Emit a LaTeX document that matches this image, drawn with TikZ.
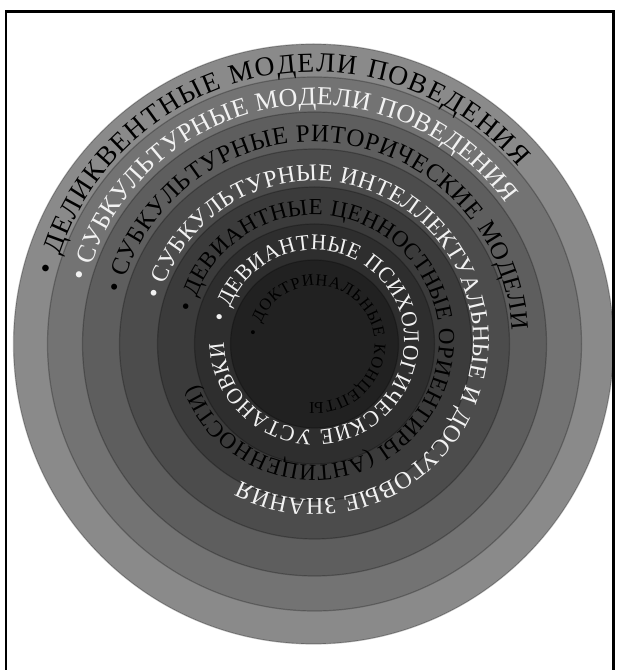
\documentclass[tikz,border=0pt]{standalone}
\usepackage{fontspec}
\setmainfont{Liberation Serif}
\newfontfamily\fA{Liberation Serif}
\newfontfamily\fF[FakeStretch=0.95]{Liberation Serif}
\usetikzlibrary{decorations.text}
\definecolor{bandA}{gray}{0.54}
\definecolor{bandB}{gray}{0.45}
\definecolor{bandC}{gray}{0.37}
\definecolor{bandD}{gray}{0.30}
\definecolor{bandE}{gray}{0.23}
\definecolor{bandF}{gray}{0.18}
\definecolor{bandG}{gray}{0.13}
\definecolor{txtw}{gray}{0.95}
\newcommand\ringA{\fA\fontsize{27.5}{28}\selectfont\color{black}}
\newcommand\ringB{\fA\fontsize{26}{28}\selectfont\color{txtw}}
\newcommand\ringC{\fA\fontsize{25}{28}\selectfont\color{black}}
\newcommand\ringD{\fA\fontsize{24}{28}\selectfont\color{txtw}}
\newcommand\ringE{\fA\fontsize{23}{28}\selectfont\color{black}}
\newcommand\ringF{\fF\fontsize{22.5}{28}\selectfont\color{txtw}}
\newcommand\ringG{\fA\fontsize{16.5}{16}\selectfont\color{black}}
\tikzset{
  band/.style={fill=#1, draw=black, draw opacity=0.25, line width=1.2pt},
  ringtext/.style={decorate, decoration={text along path, text align=fit to path, raise=-9pt, text={#1}}},
  ringtextsmall/.style={decorate, decoration={text along path, text align=fit to path, raise=-5.5pt, text={#1}}}
}
\begin{document}
\begin{tikzpicture}[x=1pt,y=1pt]
\useasboundingbox (0,0) rectangle (617,670);
\fill[white] (0,0) rectangle (617,670);
\coordinate (C) at (313.5,326);
\coordinate (D) at (314.5,326);
\coordinate (T) at (314,330);
\coordinate (S) at (316,326);
\fill[band=bandA] (C) circle[radius=300];
\fill[band=bandB] (D) circle[radius=267];
\fill[band=bandC] (D) circle[radius=232];
\fill[band=bandD] (D) circle[radius=195];
\fill[band=bandE] (D) circle[radius=157];
\fill[band=bandF] (D) circle[radius=120];
\fill[band=bandG] (D) circle[radius=84];
\path[ringtext={|\ringA|• ДЕЛИКВЕНТНЫЕ МОДЕЛИ ПОВЕДЕНИЯ}] (T) ++(166:277) arc[start angle=166, end angle=40.3, radius=277];
\path[ringtext={|\ringB|• СУБКУЛЬТУРНЫЕ МОДЕЛИ ПОВЕДЕНИЯ}] (T) ++(165.5:244) arc[start angle=165.5, end angle=35.5, radius=244];
\path[ringtext={|\ringC|• СУБКУЛЬТУРНЫЕ РИТОРИЧЕСКИЕ МОДЕЛИ}] (T) ++(166.5:207) arc[start angle=166.5, end angle=3, radius=207];
\path[ringtext={|\ringD|• СУБКУЛЬТУРНЫЕ ИНТЕЛЛЕКТУАЛЬНЫЕ И ДОСУГОВЫЕ ЗНАНИЯ}] (T) ++(165:168) arc[start angle=165, end angle=-117.5, radius=168];
\path[ringtext={|\ringE|• ДЕВИАНТНЫЕ ЦЕННОСТНЫЕ ОРИЕНТИРЫ (АНТИЦЕННОСТИ)}] (T) ++(167:134) arc[start angle=167, end angle=-159, radius=134];
\path[ringtext={|\ringF|• ДЕВИАНТНЫЕ ПСИХОЛОГИЧЕСКИЕ УСТАНОВКИ}] (T) ++(168.5:99) arc[start angle=168.5, end angle=-178, radius=99];
\path[ringtextsmall={|\ringG|• ДОКТРИНАЛЬНЫЕ КОНЦЕПТЫ}] (S) ++(172:64) arc[start angle=172, end angle=-96, radius=64];
\draw[line width=2.5pt] (6,-10) -- (6,658.5) -- (613.5,658.5) -- (613.5,-10);
\end{tikzpicture}
\end{document}
